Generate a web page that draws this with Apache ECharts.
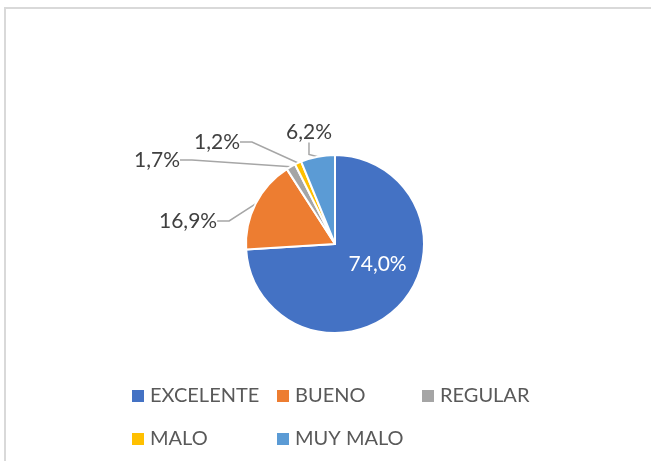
<!DOCTYPE html>
<html>
<head>
<meta charset="utf-8">
<script src="https://cdn.jsdelivr.net/npm/echarts@6/dist/echarts.min.js"></script>
<style>
  html, body { margin: 0; padding: 0; background: #fff; }
  #chart { width: 651px; height: 461px; }
</style>
</head>
<body>
<div id="chart"></div>
<script>
const categories = ["EXCELENTE", "BUENO", "REGULAR", "MALO", "MUY MALO"];
const values = [74.0, 16.9, 1.7, 1.2, 6.2];
const colors = ["#4472C4", "#ED7D31", "#A5A5A5", "#FFC000", "#5B9BD5"];

// where Excel put the outside labels (left edge, middle)
const labelSpots = {
  1: [159, 221],
  2: [134, 160],
  3: [194, 142],
  4: [286, 132],
};
// legend slots: icon left, row middle
const legendSpots = [[125, 393], [270, 393], [415, 393], [125, 436], [270, 436]];

let chart = echarts.init(document.getElementById("chart"));
let fontFam = "Lato, 'Open Sans', sans-serif";

let pieData = categories.map((name, i) => {
  let item = { name: name, value: values[i], itemStyle: { color: colors[i] } };
  if (i === 0) {
    item.label = { position: "inside", color: "#fff", offset: [8, -12] };
    item.labelLine = { show: false };
  }
  return item;
});

let legends = categories.map((name, i) => ({
  data: [name],
  left: legendSpots[i][0],
  top: legendSpots[i][1] - 12,
  itemWidth: 14,
  itemHeight: 14,
  icon: "rect",
  textStyle: { fontSize: 20, color: "#595959", fontFamily: fontFam },
}));

chart.setOption({
  backgroundColor: "#fff",
  animation: false,
  graphic: [
    {
      type: "rect",
      shape: { x: 5, y: 8, width: 700, height: 500 },
      style: { fill: "none", stroke: "#d9d9d9", lineWidth: 2 },
      silent: true,
    },
  ],
  legend: legends,
  series: [
    {
      type: "pie",
      center: [335, 244],
      radius: [0, 89],
      startAngle: 90,
      clockwise: true,
      data: pieData,
      itemStyle: { borderColor: "#fff", borderWidth: 2 },
      label: {
        show: true,
        formatter: (p) => p.value.toFixed(1).replace(".", ",") + "%",
        fontSize: 21,
        color: "#404040",
        fontFamily: fontFam,
      },
      labelLine: {
        show: true,
        length: 10,
        length2: 12,
        lineStyle: { color: "#a6a6a6", width: 1.5 },
      },
      labelLayout: (params) => {
        let spot = labelSpots[params.dataIndex];
        if (!spot) return {};
        return { x: spot[0], y: spot[1], align: "left", verticalAlign: "middle" };
      },
    },
  ],
});
</script>
</body>
</html>
